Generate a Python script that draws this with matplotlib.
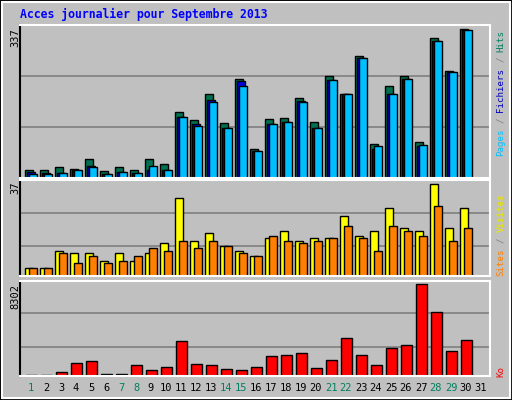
import matplotlib
matplotlib.use("Agg")
import matplotlib.pyplot as plt
from matplotlib.patches import Rectangle
import numpy as np

days = list(range(1, 32))
hits = [19, 17, 26, 21, 42, 15, 24, 19, 42, 31, 149, 131, 191, 124, 223, 65, 133, 136, 181, 127, 230, 191, 275, 76, 207, 230, 81, 316, 242, 337]
files = [14, 12, 12, 17, 28, 9, 14, 12, 17, 19, 138, 122, 177, 114, 219, 62, 122, 127, 174, 112, 221, 189, 271, 65, 191, 225, 72, 310, 240, 335]
pages = [10, 10, 12, 17, 24, 8, 14, 12, 28, 17, 138, 117, 172, 112, 207, 60, 122, 127, 172, 114, 221, 189, 271, 72, 191, 225, 74, 310, 240, 335]
visits = [3.3, 3.3, 10.2, 9.4, 9.4, 6.0, 9.4, 6.0, 9.4, 13.4, 31.4, 14.2, 17.4, 12.2, 10.2, 8.0, 15.4, 18.2, 14.2, 15.4, 15.4, 24.2, 16.2, 18.2, 27.3, 19.4, 18.2, 37.0, 19.4, 27.3]
sites = [3.3, 3.3, 9.4, 5.4, 8.0, 5.4, 6.0, 8.0, 11.4, 10.2, 14.2, 11.4, 14.2, 12.2, 9.4, 8.0, 16.2, 14.2, 13.4, 14.2, 15.4, 20.2, 15.4, 10.2, 20.2, 18.2, 16.2, 28.1, 14.2, 19.4]
ko = [91, 91, 365, 1186, 1369, 182, 182, 1004, 547, 821, 3192, 1095, 1004, 639, 547, 821, 1825, 1916, 2098, 730, 1460, 3466, 1916, 1004, 2555, 2828, 8302, 5777, 2281, 3284]
weekend = [1, 7, 8, 14, 15, 21, 22, 28, 29]

BG = "#c0c0c0"
fig = plt.figure(figsize=(5.12, 4.0), dpi=100, facecolor=BG)
W, H = 512, 400
def rect(px0, py0, px1, py1):
    return [px0 / W, 1 - py1 / H, (px1 - px0) / W, (py1 - py0) / H]

fig.patches.append(Rectangle((0, 0), 1, 1, transform=fig.transFigure, fill=False, ec="black", lw=2))
fig.patches.append(Rectangle((2/W, 2/H), 1-4/W, 1-4/H, transform=fig.transFigure, fill=False, ec="white", lw=1.5))

d = np.array(days[:30])
xl = (1 - 11/15, 1 - 11/15 + 470/15)

def style(ax, top, grids):
    ax.set_facecolor(BG)
    ax.set_xlim(*xl)
    ax.set_ylim(0, top)
    for g in grids:
        ax.axhline(g, color="#808080", lw=1.2, zorder=0)
    ax.set_xticks([]); ax.set_yticks([])
    for s in ["top", "right", "bottom"]:
        ax.spines[s].set_color("white")
        ax.spines[s].set_linewidth(1.5)
    ax.spines["left"].set_color("black")
    ax.spines["left"].set_linewidth(1.5)

ax1 = fig.add_axes(rect(20, 25, 490, 178))
top1 = 346
style(ax1, top1, [top1/3, 2*top1/3])
w = 8/15
ax1.bar(d - 0.4, hits, width=w, align="edge", color="#007050", ec="black", lw=1)
ax1.bar(d - 0.27, files, width=w, align="edge", color="#0000e0", ec="black", lw=1)
ax1.bar(d - 0.13, pages, width=w, align="edge", color="#00bfff", ec="black", lw=1)

ax2 = fig.add_axes(rect(20, 180, 490, 276))
top2 = 38.6
style(ax2, top2, [top2*0.316, top2*0.656])
ax2.bar(d - 0.4, visits, width=w, align="edge", color="#ffff00", ec="black", lw=1)
ax2.bar(d - 0.13, sites, width=w, align="edge", color="#ff8000", ec="black", lw=1)

ax3 = fig.add_axes(rect(20, 281, 490, 376))
top3 = 8606
style(ax3, top3, [top3*0.31, top3*0.66])
ax3.bar(d - 0.33, ko, width=0.73, align="edge", color="#ff0000", ec="black", lw=1)

for day in days:
    xp = (31 + 15 * (day - 1)) / W
    fig.text(xp, 1 - 388/H, str(day), ha="center", va="center", fontsize=7.5,
             family="DejaVu Sans Mono", color="#008060" if day in weekend else "black")

fig.text(20/W, 1 - 14/H, "Acces journalier pour Septembre 2013", fontsize=8.3, weight="bold",
         family="DejaVu Sans Mono", color="#0000ff", va="center", ha="left")

for txt, ytop in [("337", 28), ("37", 181), ("8302", 284)]:
    fig.text(15/W, 1 - ytop/H, txt, rotation=90, fontsize=7.5, family="DejaVu Sans Mono",
             ha="center", va="top")

def vlabel(parts, ybottom, step=5.5):
    y = ybottom
    for t, c in parts:
        fig.text(501/W, 1 - y/H, t, rotation=90, fontsize=6.6, family="DejaVu Sans Mono",
                 color=c, ha="center", va="bottom")
        y -= step * (len(t) + 1)

vlabel([("Pages", "#00bfff"), ("/", "#808080"), ("Fichiers", "#0000c0"), ("/", "#808080"), ("Hits", "#008060")], 156)
vlabel([("Sites", "#ff8000"), ("/", "#808080"), ("Visites", "#e8e800")], 276)
vlabel([("Ko", "#ff0000")], 377)

fig.savefig("out.png", dpi=100, facecolor=BG)
